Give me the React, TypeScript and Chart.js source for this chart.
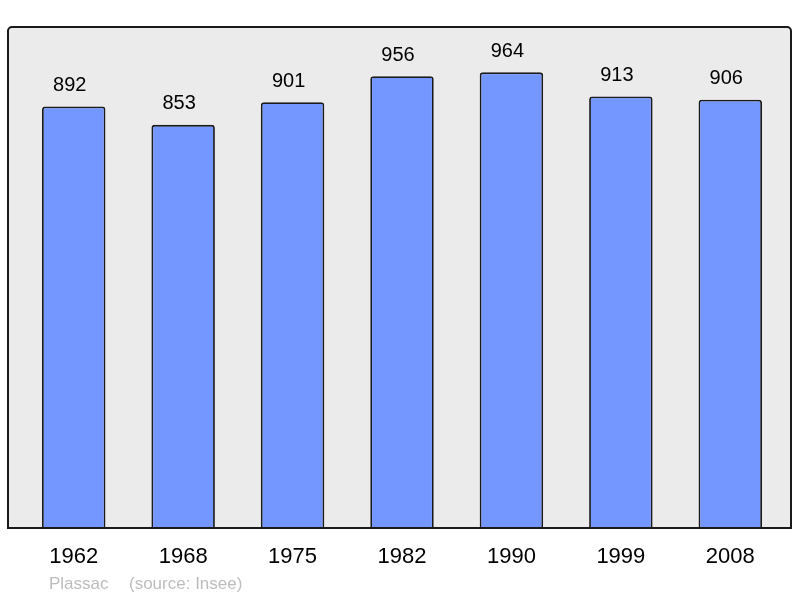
import React, { useEffect, useRef } from "react";
import { Chart, registerables } from "chart.js";

Chart.register(...registerables);

const years = ["1962", "1968", "1975", "1982", "1990", "1999", "2008"];
const population = [892, 853, 901, 956, 964, 913, 906];
const footerName = "Plassac";
const footerSource = "(source: Insee)";

const FONT = "'Liberation Sans', Arial, sans-serif";

export default function App() {
  const ref = useRef<HTMLCanvasElement | null>(null);

  useEffect(() => {
    const canvas = ref.current;
    if (!canvas) return;

    const panelPlugin = {
      id: "panel",
      beforeDatasetsDraw(chart: any) {
        const { ctx } = chart;
        const a = chart.chartArea;
        const x0 = 8, x1 = 791, y0 = a.top, y1 = a.bottom;
        ctx.save();
        ctx.beginPath();
        ctx.roundRect(x0, y0, x1 - x0, y1 - y0, [4, 4, 0, 0]);
        ctx.fillStyle = "#ebebeb";
        ctx.fill();
        ctx.restore();
      },
      afterDatasetsDraw(chart: any) {
        const { ctx } = chart;
        const a = chart.chartArea;
        const x0 = 8, x1 = 791, y0 = a.top, y1 = a.bottom;
        ctx.save();
        ctx.beginPath();
        ctx.roundRect(x0, y0, x1 - x0, y1 - y0, [4, 4, 0, 0]);
        ctx.lineWidth = 2;
        ctx.strokeStyle = "#1a1a1a";
        ctx.stroke();

        // value labels
        const meta = chart.getDatasetMeta(0);
        ctx.fillStyle = "#000";
        ctx.font = `20px ${FONT}`;
        ctx.textAlign = "center";
        ctx.textBaseline = "middle";
        meta.data.forEach((bar: any, i: number) => {
          ctx.fillText(String(population[i]), bar.x - 4, bar.y - 21);
        });

        // footer
        ctx.fillStyle = "#bdbdbd";
        ctx.font = `17px ${FONT}`;
        ctx.textAlign = "left";
        ctx.fillText(footerName, 49, 584);
        ctx.fillText(footerSource, 129, 584);
        ctx.restore();
      },
    };

    const chart = new Chart(canvas, {
      type: "bar",
      data: {
        labels: years,
        datasets: [
          {
            data: population,
            backgroundColor: "#7396ff",
            borderColor: "#1a1a1a",
            borderWidth: 1.8,
            borderRadius: 3,
            borderSkipped: "bottom",
            barPercentage: 0.58,
            categoryPercentage: 1,
          },
        ],
      },
      options: {
        responsive: false,
        animation: false,
        layout: { padding: { left: 19, right: 15, top: 27, bottom: 0 } },
        plugins: {
          legend: { display: false },
          tooltip: { enabled: false },
        },
        scales: {
          x: {
            grid: { display: false, drawTicks: false },
            border: { display: false },
            ticks: {
              color: "#000",
              font: { family: FONT, size: 22 },
              padding: 16,
              maxRotation: 0,
            },
            afterFit(scale: any) {
              scale.height = 70;
            },
          },
          y: {
            display: false,
            min: 0,
            max: 1060,
          },
        },
      },
      plugins: [panelPlugin],
    });

    return () => chart.destroy();
  }, []);

  return (
    <div style={{ position: "fixed", left: 0, top: 0, width: 800, height: 598, background: "#fff" }}>
      <canvas ref={ref} width={800} height={598} style={{ width: 800, height: 598 }} />
    </div>
  );
}
